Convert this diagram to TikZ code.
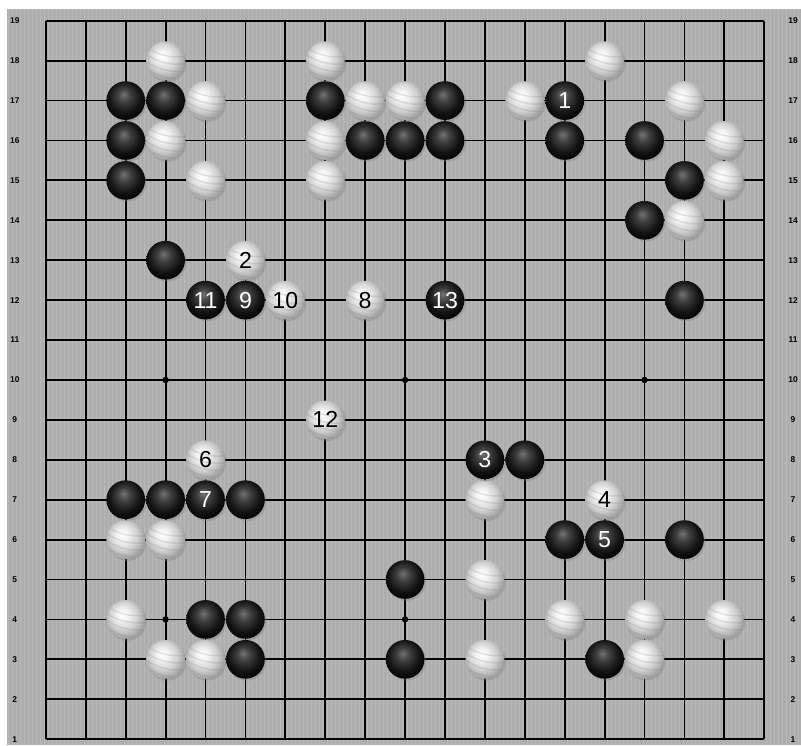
\documentclass[tikz,border=0pt]{standalone}
\usepackage{fontspec}
\setmainfont{Liberation Sans}
\usetikzlibrary{shadows}

\definecolor{boardgray}{RGB}{174,174,174}
\definecolor{stripegray}{RGB}{184,184,184}

\pgfdeclareradialshading{whiteball}{\pgfpoint{-5bp}{7bp}}{%
  color(0bp)=(white); color(7bp)=(white!96!black); color(18bp)=(white!82!black);
  color(27bp)=(white!64!black); color(50bp)=(white!50!black)}
\pgfdeclareradialshading{blackball}{\pgfpoint{-3bp}{8bp}}{%
  color(0bp)=(black!55); color(9bp)=(black!76); color(20bp)=(black!92);
  color(30bp)=(black); color(50bp)=(black)}

\tikzset{
  gridline/.style={black, line width=1.3pt},
  starpoint/.style={black},
  edgelabel/.style={font=\fontsize{6}{6}\selectfont\bfseries, inner sep=0pt},
  stone/.style={circle, minimum size=0.97cm, inner sep=0pt,
    font=\fontsize{16.5}{16.5}\selectfont,
    drop shadow={shadow xshift=0.04cm, shadow yshift=-0.05cm, opacity=0.35}},
  blackstone/.style={stone, shading=blackball, text=white},
  whitestone/.style={stone, shading=whiteball, text=black,
    path picture={
      \foreach \d in {-0.32,-0.14,0.04,0.22}
        \draw[gray, opacity=0.2, line width=1.1pt]
          ([shift={(-0.5,\d+0.12)}]path picture bounding box.center)
          to[bend right=18] ([shift={(0.5,\d-0.12)}]path picture bounding box.center);
    }},
}

\begin{document}
\begin{tikzpicture}
  \useasboundingbox (-0.15,0.85) rectangle (19.92,19.52);

  % Board
  \fill[boardgray] (0.02,0.85) rectangle (19.92,19.3);
  \foreach \s in {0.06,0.16,...,19.9}
    \draw[stripegray, line width=0.4pt] (\s,0.85) -- (\s,19.3);

  % Grid lines
  \foreach \i in {1,...,19} {
    \draw[gridline] (\i,1) -- (\i,19);
    \draw[gridline] (1,\i) -- (19,\i);
  }

  % Star points
  \foreach \c in {4,10,16}
    \foreach \r in {4,10,16}
      \fill[starpoint] (\c,\r) circle (0.08);

  % Row numbers
  \foreach \i in {1,...,19} {
    \node[edgelabel] (left-\i) at (0.22,\i) {\i};
    \node[edgelabel] (right-\i) at (19.72,\i) {\i};
  }

  % Black stones
  \foreach \c/\r in {3/17,4/17,3/16,3/15,8/17,11/17,9/16,10/16,11/16,
                     14/16,16/16,17/15,16/14,17/12,4/13,13/8,14/6,17/6,
                     3/7,4/7,6/7,10/5,5/4,6/4,6/3,10/3,15/3}
    \node[blackstone] (b-\c-\r) at (\c,\r) {};

  % White stones
  \foreach \c/\r in {4/18,5/17,4/16,5/15,8/18,9/17,10/17,8/16,8/15,
                     13/17,15/18,17/17,18/16,18/15,17/14,12/7,3/6,4/6,
                     12/5,3/4,4/3,5/3,12/3,14/4,16/4,18/4,16/3}
    \node[whitestone] (w-\c-\r) at (\c,\r) {};

  % Numbered moves
  \node[blackstone] (move1) at (14,17) {1};
  \node[whitestone] (move2) at (6,13) {2};
  \node[blackstone] (move3) at (12,8) {3};
  \node[whitestone] (move4) at (15,7) {4};
  \node[blackstone] (move5) at (15,6) {5};
  \node[whitestone] (move6) at (5,8) {6};
  \node[blackstone] (move7) at (5,7) {7};
  \node[whitestone] (move8) at (9,12) {8};
  \node[blackstone] (move9) at (6,12) {9};
  \node[whitestone] (move10) at (7,12) {10};
  \node[blackstone] (move11) at (5,12) {11};
  \node[whitestone] (move12) at (8,9) {12};
  \node[blackstone] (move13) at (11,12) {13};
\end{tikzpicture}
\end{document}
